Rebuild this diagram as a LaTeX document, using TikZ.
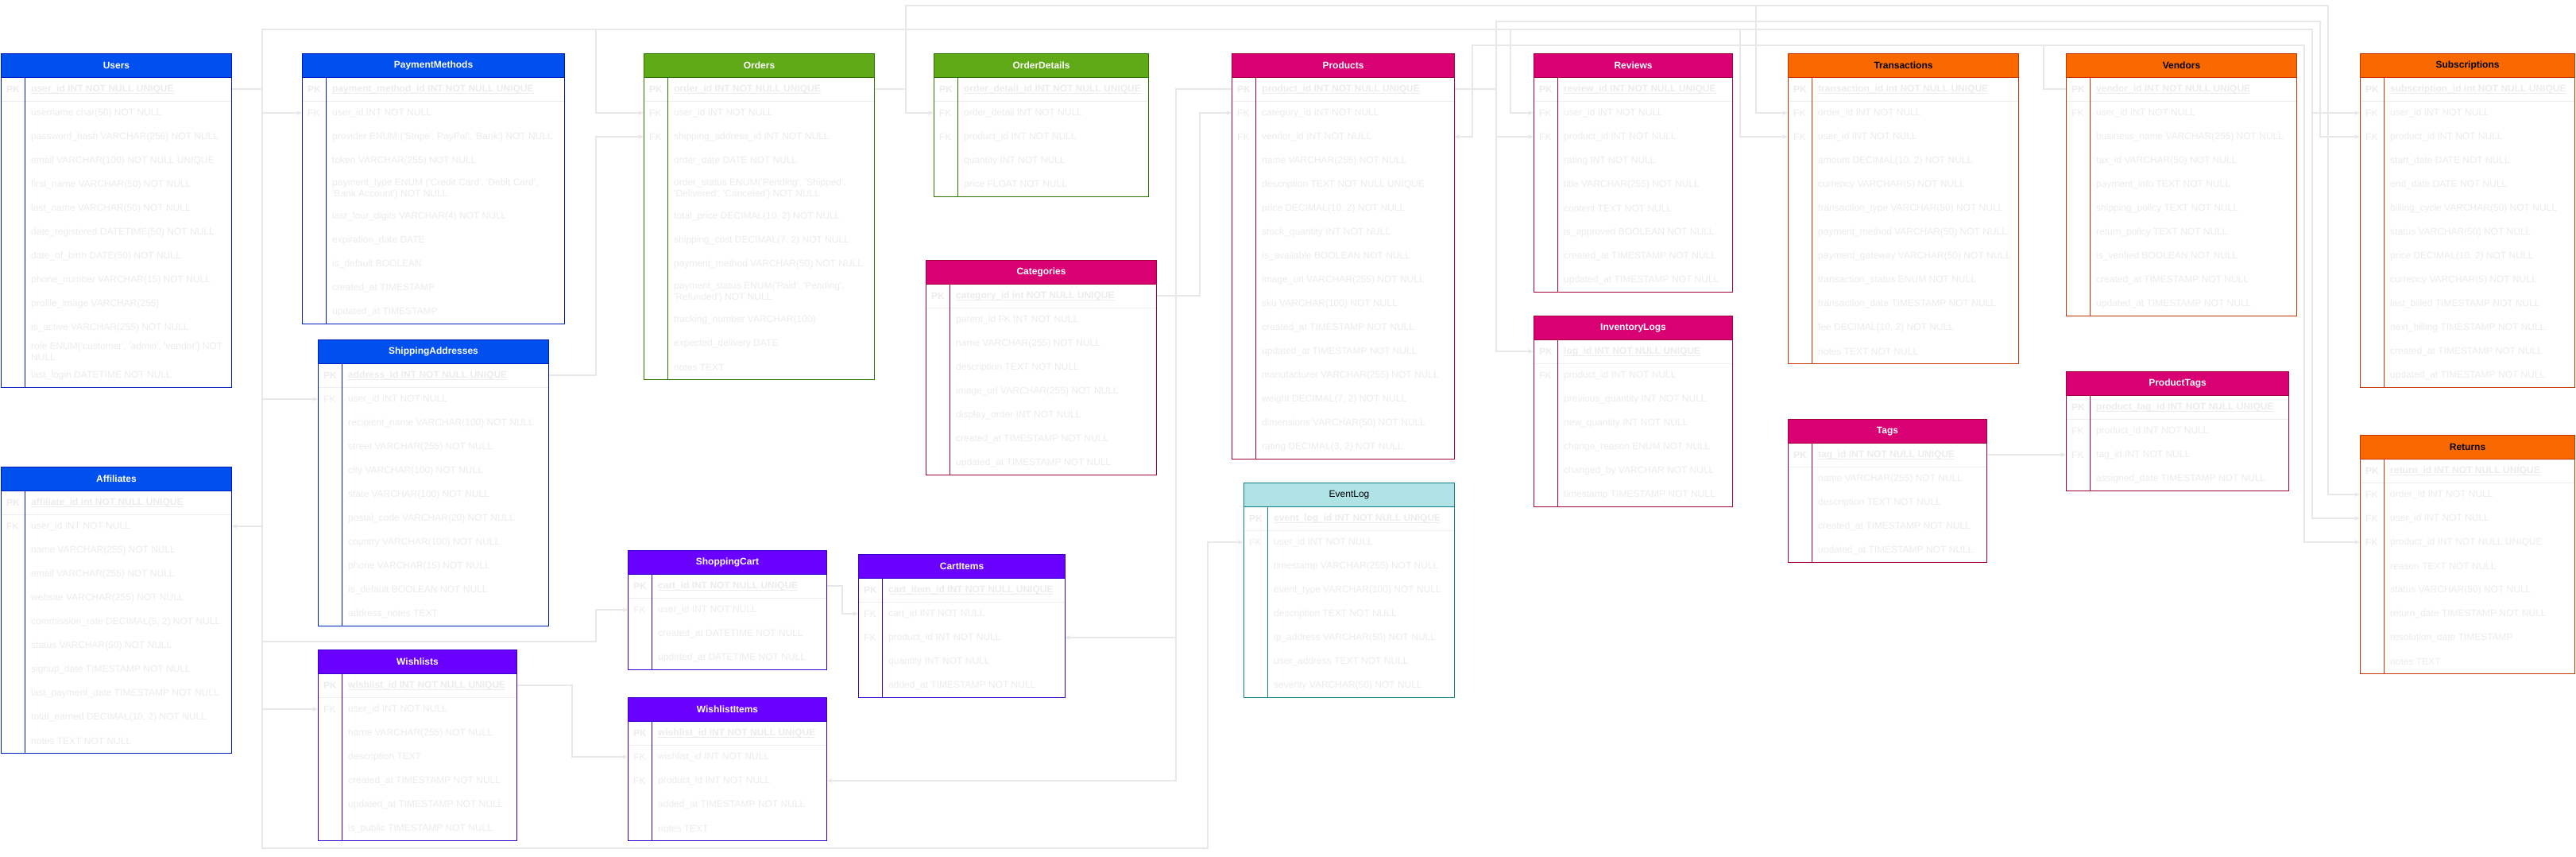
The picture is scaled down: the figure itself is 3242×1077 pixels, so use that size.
\documentclass[tikz,border=0pt]{standalone}
\usepackage{fontspec}
\setmainfont{Liberation Sans}
\usetikzlibrary{arrows.meta}
\definecolor{bluefill}{HTML}{0050EF}\definecolor{blueline}{HTML}{001DBC}\colorlet{bluetxt}{white}
\definecolor{greenfill}{HTML}{60A917}\definecolor{greenline}{HTML}{2D7600}\colorlet{greentxt}{white}
\definecolor{magfill}{HTML}{D80073}\definecolor{magline}{HTML}{A50040}\colorlet{magtxt}{white}
\definecolor{orfill}{HTML}{FA6800}\definecolor{orline}{HTML}{C73500}\colorlet{ortxt}{black}
\definecolor{purfill}{HTML}{6A00FF}\definecolor{purline}{HTML}{3700CC}\colorlet{purtxt}{white}
\definecolor{tealfill}{HTML}{B0E3E6}\definecolor{tealline}{HTML}{0E8088}\colorlet{tealtxt}{black}
\definecolor{rowtxt}{HTML}{ECECEC}
\definecolor{connc}{HTML}{E8E8E8}
\definecolor{sepc}{HTML}{EEEEEE}
\newcommand\q{\textquotesingle}
\pgfdeclarelayer{connlayer}\pgfdeclarelayer{bglayer}\pgfsetlayers{connlayer,bglayer,main}
\tikzset{
  hdr/.style={draw=#1line, fill=#1fill, text=#1txt, line width=1pt, inner sep=0pt,
    minimum height=30pt, font=\fontsize{12}{14}\selectfont\bfseries, anchor=north west},
  rowbox/.style={inner sep=0pt, anchor=west},
  flkey/.style={inner sep=0pt, anchor=west, text=rowtxt, font=\fontsize{12}{14}\selectfont},
  pkkey/.style={inner sep=0pt, anchor=west, text=rowtxt, font=\fontsize{12}{14}\selectfont\bfseries},
  fltxt/.style={inner sep=0pt, anchor=west, align=left, text=rowtxt, font=\fontsize{12}{14}\selectfont},
  pktxt/.style={inner sep=0pt, anchor=west, align=left, text=rowtxt, font=\fontsize{12}{14}\selectfont\bfseries},
  conn/.style={draw=connc, line width=1.1pt, -{Stealth[length=7pt,width=6pt]}},
}
\newcommand\ERbegin[6]{%
  \xdef\ERid{#1}\xdef\ERx{#2}\xdef\ERy{#3}\xdef\ERw{#4}\xdef\ERfam{#5}\xdef\ERn{0}%
  \pgfmathsetmacro\ERtmpc{#3+30}\xdef\ERcur{\ERtmpc}%
  \node[hdr=#5, minimum width=#4pt] (#1-h) at (#2,#3) {#6};%
}
\newcommand\ERrow[4]{%
  \pgfmathtruncatemacro\ERtmpn{\ERn+1}\xdef\ERn{\ERtmpn}%
  \pgfmathsetmacro\ERmid{\ERcur+#1/2}%
  \node[rowbox, minimum width=\ERw pt, minimum height=#1pt] (\ERid-\ERn) at (\ERx,\ERmid) {};%
  \node[#3key] (\ERid-\ERn k) at (\ERx+7,\ERmid) {#2};%
  \node[#3txt] (\ERid-\ERn t) at (\ERx+38,\ERmid) {#4};%
  \pgfmathsetmacro\ERtmpc{\ERcur+#1}\xdef\ERcur{\ERtmpc}%
}
\newcommand\ERpk[1]{\ERrow{30}{PK}{pk}{#1}%
  \draw[rowtxt, line width=0.8pt] ([yshift=-2pt]\ERid-\ERn t.base west) -- ([yshift=-2pt]\ERid-\ERn t.base east);}
\newcommand\ERfk[1]{\ERrow{30}{FK}{fl}{#1}}
\newcommand\ERr[1]{\ERrow{30}{}{fl}{#1}}
\newcommand\ERrr[1]{\ERrow{40}{}{fl}{#1}}
\newcommand\ERend{%
  \begin{pgfonlayer}{bglayer}\fill[white] (\ERx,\ERy) rectangle (\ERx+\ERw,\ERcur);\end{pgfonlayer}%
  \draw[sepc, line width=1pt] (\ERx,\ERy+60) -- (\ERx+\ERw,\ERy+60);%
  \draw[\ERfam line, line width=1pt] (\ERx+30,\ERy+30) -- (\ERx+30,\ERcur);%
  \draw[\ERfam line, line width=1pt] (\ERx,\ERy) rectangle (\ERx+\ERw,\ERcur);%
}
\begin{document}
\begin{tikzpicture}[x=1pt,y=-1pt]
\useasboundingbox (0,0) rectangle (3242,1077);

% ---------- Users
\ERbegin{us}{1}{67}{290}{blue}{Users}
\ERpk{user\_id INT NOT NULL UNIQUE}
\ERr{username char(50) NOT NULL}
\ERr{password\_hash VARCHAR(256) NOT NULL}
\ERr{email VARCHAR(100) NOT NULL UNIQUE}
\ERr{first\_name VARCHAR(50) NOT NULL}
\ERr{last\_name VARCHAR(50) NOT NULL}
\ERr{date\_registered DATETIME(50) NOT NULL}
\ERr{date\_of\_birth DATE(50) NOT NULL}
\ERr{phone\_number VARCHAR(15) NOT NULL}
\ERr{profile\_image VARCHAR(255)}
\ERr{is\_active VARCHAR(255) NOT NULL}
\ERr{role ENUM(\q customer\q, \q admin\q, \q vendor\q) NOT\\NULL}
\ERr{last\_login DATETIME NOT NULL}
\ERend

% ---------- PaymentMethods
\ERbegin{pm}{380}{67}{330}{blue}{PaymentMethods}
\ERpk{payment\_method\_id INT NOT NULL UNIQUE}
\ERfk{user\_id INT NOT NULL}
\ERr{provider ENUM (\q Stripe\q, PayPal\q, \q Bank\q) NOT NULL}
\ERr{token VARCHAR(255) NOT NULL}
\ERrr{payment\_type ENUM (\q Credit Card\q, \q Debit Card\q,\\\q Bank Account\q) NOT NULL}
\ERr{last\_four\_digits VARCHAR(4) NOT NULL}
\ERr{expiration\_date DATE}
\ERr{is\_default BOOLEAN}
\ERr{created\_at TIMESTAMP}
\ERr{updated\_at TIMESTAMP}
\ERend

% ---------- ShippingAddresses
\ERbegin{sa}{400}{427}{290}{blue}{ShippingAddresses}
\ERpk{address\_id INT NOT NULL UNIQUE}
\ERfk{user\_id INT NOT NULL}
\ERr{recipient\_name VARCHAR(100) NOT NULL}
\ERr{street VARCHAR(255) NOT NULL}
\ERr{city VARCHAR(100) NOT NULL}
\ERr{state VARCHAR(100) NOT NULL}
\ERr{postal\_code VARCHAR(20) NOT NULL}
\ERr{country VARCHAR(100) NOT NULL}
\ERr{phone VARCHAR(15) NOT NULL}
\ERr{is\_default BOOLEAN NOT NULL}
\ERr{address\_notes TEXT}
\ERend

% ---------- Affiliates
\ERbegin{af}{1}{587}{290}{blue}{Affiliates}
\ERpk{affiliate\_id int NOT NULL UNIQUE}
\ERfk{user\_id INT NOT NULL}
\ERr{name VARCHAR(255) NOT NULL}
\ERr{email VARCHAR(255) NOT NULL}
\ERr{website VARCHAR(255) NOT NULL}
\ERr{commission\_rate DECIMAL(5, 2) NOT NULL}
\ERr{status VARCHAR(50) NOT NULL}
\ERr{signup\_date TIMESTAMP NOT NULL}
\ERr{last\_payment\_date TIMESTAMP NOT NULL}
\ERr{total\_earned DECIMAL(10, 2) NOT NULL}
\ERr{notes TEXT NOT NULL}
\ERend

% ---------- Wishlists
\ERbegin{wl}{400}{817}{250}{pur}{Wishlists}
\ERpk{wishlist\_id INT NOT NULL UNIQUE}
\ERfk{user\_id INT NOT NULL}
\ERr{name VARCHAR(255) NOT NULL}
\ERr{description TEXT}
\ERr{created\_at TIMESTAMP NOT NULL}
\ERr{updated\_at TIMESTAMP NOT NULL}
\ERr{is\_public TIMESTAMP NOT NULL}
\ERend

% ---------- Orders
\ERbegin{or}{810}{67}{290}{green}{Orders}
\ERpk{order\_id INT NOT NULL UNIQUE}
\ERfk{user\_id INT NOT NULL}
\ERfk{shipping\_address\_id INT NOT NULL}
\ERr{order\_date DATE NOT NULL}
\ERrr{order\_status ENUM(\q Pending\q, \q Shipped\q,\\\q Delivered\q, \q Canceled\q) NOT NULL}
\ERr{total\_price DECIMAL(10, 2) NOT NULL}
\ERr{shipping\_cost DECIMAL(7, 2) NOT NULL}
\ERr{payment\_method VARCHAR(50) NOT NULL}
\ERrr{payment\_status ENUM(\q Paid\q, \q Pending\q,\\\q Refunded\q) NOT NULL}
\ERr{tracking\_number VARCHAR(100)}
\ERr{expected\_delivery DATE}
\ERr{notes TEXT}
\ERend

% ---------- OrderDetails
\ERbegin{od}{1175}{67}{270}{green}{OrderDetails}
\ERpk{order\_detail\_id INT NOT NULL UNIQUE}
\ERfk{order\_detail INT NOT NULL}
\ERfk{product\_id INT NOT NULL}
\ERr{quantity INT NOT NULL}
\ERr{price FLOAT NOT NULL}
\ERend

% ---------- Categories
\ERbegin{ca}{1165}{327}{290}{mag}{Categories}
\ERpk{category\_id int NOT NULL UNIQUE}
\ERr{parent\_id FK INT NOT NULL}
\ERr{name VARCHAR(255) NOT NULL}
\ERr{description TEXT NOT NULL}
\ERr{image\_url VARCHAR(255) NOT NULL}
\ERr{display\_order INT NOT NULL}
\ERr{created\_at TIMESTAMP NOT NULL}
\ERr{updated\_at TIMESTAMP NOT NULL}
\ERend

% ---------- Products
\ERbegin{pr}{1550}{67}{280}{mag}{Products}
\ERpk{product\_id INT NOT NULL UNIQUE}
\ERfk{category\_id INT NOT NULL}
\ERfk{vendor\_id INT NOT NULL}
\ERr{name VARCHAR(255) NOT NULL}
\ERr{description TEXT NOT NULL UNIQUE}
\ERr{price DECIMAL(10, 2) NOT NULL}
\ERr{stock\_quantity INT NOT NULL}
\ERr{is\_available BOOLEAN NOT NULL}
\ERr{image\_url VARCHAR(255) NOT NULL}
\ERr{sku VARCHAR(100) NOT NULL}
\ERr{created\_at TIMESTAMP NOT NULL}
\ERr{updated\_at TIMESTAMP NOT NULL}
\ERr{manufacturer VARCHAR(255) NOT NULL}
\ERr{weight DECIMAL(7, 2) NOT NULL}
\ERr{dimensions VARCHAR(50) NOT NULL}
\ERr{rating DECIMAL(3, 2) NOT NULL}
\ERend

% ---------- Reviews
\ERbegin{rv}{1930}{67}{250}{mag}{Reviews}
\ERpk{review\_id INT NOT NULL UNIQUE}
\ERfk{user\_id INT NOT NULL}
\ERfk{product\_id INT NOT NULL}
\ERr{rating INT NOT NULL}
\ERr{title VARCHAR(255) NOT NULL}
\ERr{content TEXT NOT NULL}
\ERr{is\_approved BOOLEAN NOT NULL}
\ERr{created\_at TIMESTAMP NOT NULL}
\ERr{updated\_at TIMESTAMP NOT NULL}
\ERend

% ---------- InventoryLogs
\ERbegin{il}{1930}{397}{250}{mag}{InventoryLogs}
\ERpk{log\_id INT NOT NULL UNIQUE}
\ERfk{product\_id INT NOT NULL}
\ERr{previous\_quantity INT NOT NULL}
\ERr{new\_quantity INT NOT NULL}
\ERr{change\_reason ENUM NOT NULL}
\ERr{changed\_by VARCHAR NOT NULL}
\ERr{timestamp TIMESTAMP NOT NULL}
\ERend

% ---------- Transactions
\ERbegin{tr}{2250}{67}{290}{or}{Transactions}
\ERpk{transaction\_id int NOT NULL UNIQUE}
\ERfk{order\_id INT NOT NULL}
\ERfk{user\_id INT NOT NULL}
\ERr{amount DECIMAL(10, 2) NOT NULL}
\ERr{currency VARCHAR(5) NOT NULL}
\ERr{transaction\_type VARCHAR(50) NOT NULL}
\ERr{payment\_method VARCHAR(50) NOT NULL}
\ERr{payment\_gateway VARCHAR(50) NOT NULL}
\ERr{transaction\_status ENUM NOT NULL}
\ERr{transaction\_date TIMESTAMP NOT NULL}
\ERr{fee DECIMAL(10, 2) NOT NULL}
\ERr{notes TEXT NOT NULL}
\ERend

% ---------- Tags
\ERbegin{tg}{2250}{527}{250}{mag}{Tags}
\ERpk{tag\_id INT NOT NULL UNIQUE}
\ERr{name VARCHAR(255) NOT NULL}
\ERr{description TEXT NOT NULL}
\ERr{created\_at TIMESTAMP NOT NULL}
\ERr{updated\_at TIMESTAMP NOT NULL}
\ERend

% ---------- Vendors
\ERbegin{vd}{2600}{67}{290}{or}{Vendors}
\ERpk{vendor\_id INT NOT NULL UNIQUE}
\ERfk{user\_id INT NOT NULL}
\ERr{business\_name VARCHAR(255) NOT NULL}
\ERr{tax\_id VARCHAR(50) NOT NULL}
\ERr{payment\_info TEXT NOT NULL}
\ERr{shipping\_policy TEXT NOT NULL}
\ERr{return\_policy TEXT NOT NULL}
\ERr{is\_verified BOOLEAN NOT NULL}
\ERr{created\_at TIMESTAMP NOT NULL}
\ERr{updated\_at TIMESTAMP NOT NULL}
\ERend

% ---------- ProductTags
\ERbegin{pt}{2600}{467}{280}{mag}{ProductTags}
\ERpk{product\_tag\_id INT NOT NULL UNIQUE}
\ERfk{product\_id INT NOT NULL}
\ERfk{tag\_id INT NOT NULL}
\ERr{assigned\_date TIMESTAMP NOT NULL}
\ERend

% ---------- Subscriptions
\ERbegin{sb}{2970}{67}{270}{or}{Subscriptions}
\ERpk{subscription\_id int NOT NULL UNIQUE}
\ERfk{user\_id INT NOT NULL}
\ERfk{product\_id INT NOT NULL}
\ERr{start\_date DATE NOT NULL}
\ERr{end\_date DATE NOT NULL}
\ERr{billing\_cycle VARCHAR(50) NOT NULL}
\ERr{status VARCHAR(50) NOT NULL}
\ERr{price DECIMAL(10, 2) NOT NULL}
\ERr{currency VARCHAR(5) NOT NULL}
\ERr{last\_billed TIMESTAMP NOT NULL}
\ERr{next\_billing TIMESTAMP NOT NULL}
\ERr{created\_at TIMESTAMP NOT NULL}
\ERr{updated\_at TIMESTAMP NOT NULL}
\ERend

% ---------- Returns
\ERbegin{re}{2970}{547}{270}{or}{Returns}
\ERpk{return\_id INT NOT NULL UNIQUE}
\ERfk{order\_id INT NOT NULL}
\ERfk{user\_id INT NOT NULL}
\ERfk{product\_id INT NOT NULL UNIQUE}
\ERr{reason TEXT NOT NULL}
\ERr{status VARCHAR(50) NOT NULL}
\ERr{return\_date TIMESTAMP NOT NULL}
\ERr{resolution\_date TIMESTAMP}
\ERr{notes TEXT}
\ERend

% ---------- ShoppingCart
\ERbegin{sc}{790}{692}{250}{pur}{ShoppingCart}
\ERpk{cart\_id INT NOT NULL UNIQUE}
\ERfk{user\_id INT NOT NULL}
\ERr{created\_at DATETIME NOT NULL}
\ERr{updated\_at DATETIME NOT NULL}
\ERend

% ---------- CartItems
\ERbegin{ci}{1080}{697}{260}{pur}{CartItems}
\ERpk{cart\_item\_id INT NOT NULL UNIQUE}
\ERfk{cart\_id INT NOT NULL}
\ERfk{product\_id INT NOT NULL}
\ERr{quantity INT NOT NULL}
\ERr{added\_at TIMESTAMP NOT NULL}
\ERend

% ---------- WishlistItems
\ERbegin{wi}{790}{877}{250}{pur}{WishlistItems}
\ERpk{wishlist\_id INT NOT NULL UNIQUE}
\ERfk{wishlist\_id INT NOT NULL}
\ERfk{product\_id INT NOT NULL}
\ERr{added\_at TIMESTAMP NOT NULL}
\ERr{notes TEXT}
\ERend

% ---------- EventLog
\ERbegin{ev}{1565}{607}{265}{teal}{\mdseries EventLog}
\ERpk{event\_log\_id INT NOT NULL UNIQUE}
\ERfk{user\_id INT NOT NULL}
\ERr{timestamp VARCHAR(255) NOT NULL}
\ERr{event\_type VARCHAR(100) NOT NULL}
\ERr{description TEXT NOT NULL}
\ERr{ip\_address VARCHAR(50) NOT NULL}
\ERr{user\_address TEXT NOT NULL}
\ERr{severity VARCHAR(50) NOT NULL}
\ERend

% ---------- connectors
\begin{pgfonlayer}{connlayer}
\coordinate (uA) at (330,112);
\coordinate (uT) at (330,37);
\coordinate (uB) at (330,1067);
\draw[conn] (us-1.east) -- (uA) |- (pm-2.west);
\draw[conn] (us-1.east) -- (uA) |- (sa-2.west);
\draw[conn] (us-1.east) -- (uA) |- (af-2.east);
\draw[conn] (us-1.east) -- (uA) |- (wl-2.west);
\draw[conn] (us-1.east) -- (uA) -- (330,807) -- (750,807) |- (sc-2.west);
\draw[conn] (us-1.east) -- (uA) -- (uT) -- (750,37) |- (or-2.west);
\draw[conn] (us-1.east) -- (uA) -- (uB) -- (1520,1067) |- (ev-2.west);
\draw[conn] (us-1.east) -- (uA) -- (uT) -- (1901,37) |- (rv-2.west);
\draw[conn] (us-1.east) -- (uA) -- (uT) -- (2190,37) |- (tr-3.west);
\draw[conn] (us-1.east) -- (uA) -- (uT) -- (2910,37) |- (sb-2.west);
\draw[conn] (us-1.east) -- (uA) -- (uT) -- (2910,37) |- (re-3.west);
\draw[conn] (sa-1.east) -- (750,472) |- (or-3.west);
\draw[conn] (or-1.east) -- (1140,112) |- (od-2.west);
\draw[conn] (or-1.east) -- (1140,112) -- (1140,7) -- (2210,7) |- (tr-2.west);
\draw[conn] (or-1.east) -- (1140,112) -- (1140,7) -- (2930,7) |- (re-2.west);
\draw[conn] (ca-1.east) -- (1510,372) |- (pr-2.west);
\draw[conn] (pr-1.west) -- (1480,112) |- (ci-3.east);
\draw[conn] (pr-1.west) -- (1480,112) |- (wi-3.east);
\draw[conn] (pr-1.east) -- (1883,112) -- (1883,27) -- (2920,27) |- (sb-3.west);
\draw[conn] (pr-1.east) -- (1883,112) |- (rv-3.west);
\draw[conn] (pr-1.east) -- (1883,112) |- (il-1.west);
\draw[conn] (pr-1.east) -- (1853,112) -- (1853,57) -- (2900,57) |- (re-4.west);
\draw[conn] (vd-1.west) -- (2572,112) -- (2572,57) -- (1853,57) |- (pr-3.east);
\draw[conn] (tg-1.east) -- (pt-3.west);
\draw[conn] (sc-1.east) -- (1060,737) |- (ci-2.west);
\draw[conn] (wl-1.east) -- (720,862) |- (wi-2.west);
\end{pgfonlayer}
\end{tikzpicture}
\end{document}
